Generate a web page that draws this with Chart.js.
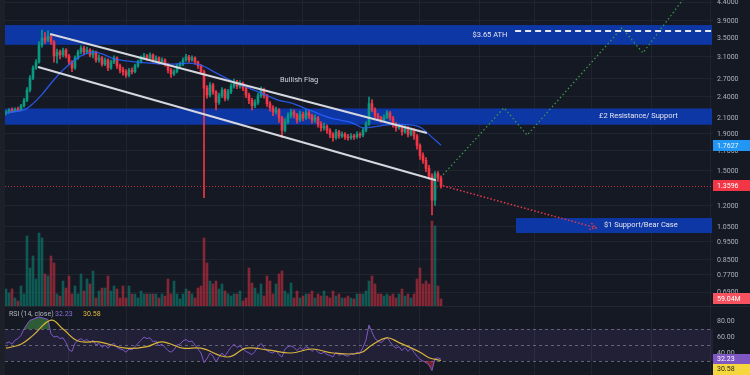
<!DOCTYPE html>
<html>
<head>
<meta charset="utf-8">
<script src="https://cdn.jsdelivr.net/npm/chart.js@4.4.1/dist/chart.umd.min.js"></script>
<style>
html, body { margin: 0; padding: 0; background: #151924; overflow: hidden; }
#wrap { position: relative; width: 750px; height: 375px; }
#price { position: absolute; left: 0; top: 0; }
#rsi { position: absolute; left: 0; top: 307px; }
#sep { position: absolute; left: 0; top: 306px; width: 750px; height: 1px; background: #232734; }
#edge { position: absolute; left: 0; top: 0; width: 5px; height: 375px; background: #1d2029; }
</style>
</head>
<body>
<div id="wrap">
  <canvas id="price" width="750" height="306"></canvas>
  <div id="sep"></div>
  <canvas id="rsi" width="750" height="68"></canvas>
  <div id="edge"></div>
</div>
<script>
// ---- candles (one per bar index) ----
var firstOpen = 2.16;
var closes = [2.18,2.21,2.19,2.22,2.21,2.27,2.35,2.51,2.71,2.89,
  3.00,3.35,3.50,3.45,3.54,3.41,3.12,3.20,3.14,3.24,
  3.12,3.00,2.89,3.08,3.20,3.28,3.20,3.24,3.14,3.20,
  3.04,3.08,2.96,3.04,2.89,3.00,3.08,2.93,2.85,2.82,
  2.76,2.85,2.82,2.93,3.00,3.08,3.12,3.08,3.14,3.04,
  3.08,3.00,3.04,2.96,2.85,2.78,2.82,2.93,2.96,3.04,
  3.10,3.04,3.08,3.00,2.93,2.82,2.54,2.43,2.59,2.48,
  2.32,2.42,2.51,2.38,2.48,2.57,2.64,2.57,2.61,2.54,
  2.43,2.35,2.27,2.32,2.42,2.51,2.42,2.30,2.24,2.18,
  2.21,2.10,1.94,2.05,2.13,2.18,2.14,2.07,2.15,2.10,
  2.17,2.13,2.07,2.10,2.02,1.97,1.99,1.94,1.89,1.85,
  1.92,1.87,1.89,1.86,1.85,1.87,1.86,1.89,1.88,1.94,
  2.02,2.30,2.21,2.13,2.10,2.07,2.11,2.17,2.10,2.02,
  1.97,1.99,1.92,1.97,1.89,1.94,1.87,1.76,1.65,1.60,
  1.52,1.45,1.24,1.47,1.43,1.3596];
var highs = [2.20,2.23,2.24,2.24,2.25,2.29,2.38,2.55,2.75,2.93,
  3.05,3.42,3.68,3.62,3.66,3.58,3.44,3.26,3.24,3.28,
  3.27,3.15,3.03,3.12,3.24,3.33,3.32,3.30,3.27,3.24,
  3.22,3.14,3.11,3.08,3.06,3.04,3.12,3.10,2.96,2.90,
  2.86,2.88,2.89,2.96,3.04,3.12,3.17,3.15,3.18,3.16,
  3.12,3.10,3.08,3.06,2.98,2.88,2.86,2.96,3.00,3.08,
  3.15,3.13,3.12,3.10,3.02,2.95,2.85,2.58,2.63,2.62,
  2.50,2.46,2.55,2.53,2.52,2.61,2.69,2.67,2.66,2.64,
  2.56,2.46,2.38,2.36,2.46,2.56,2.54,2.44,2.33,2.27,
  2.25,2.23,2.12,2.09,2.17,2.22,2.21,2.16,2.19,2.18,
  2.21,2.20,2.15,2.14,2.12,2.05,2.03,2.01,1.96,1.91,
  1.95,1.94,1.92,1.91,1.89,1.90,1.89,1.92,1.91,1.97,
  2.05,2.40,2.36,2.24,2.16,2.12,2.14,2.20,2.19,2.12,
  2.04,2.02,2.01,2.00,1.99,1.97,1.96,1.89,1.78,1.68,
  1.63,1.55,1.47,1.49,1.49,1.45];
var lows = [2.14,2.16,2.17,2.18,2.19,2.20,2.25,2.33,2.48,2.68,
  2.86,2.98,3.30,3.38,3.42,3.36,3.00,2.98,3.06,3.10,
  3.08,2.95,2.82,2.86,3.05,3.16,3.14,3.16,3.10,3.08,
  3.00,3.00,2.92,2.93,2.84,2.86,2.97,2.88,2.80,2.76,
  2.72,2.73,2.78,2.80,2.90,2.98,3.05,3.03,3.05,3.00,
  3.01,2.96,2.97,2.92,2.80,2.72,2.75,2.80,2.90,2.93,
  3.01,3.00,3.01,2.96,2.88,2.78,1.26,2.38,2.40,2.44,
  2.21,2.29,2.39,2.34,2.35,2.45,2.54,2.53,2.54,2.50,
  2.39,2.30,2.21,2.24,2.29,2.39,2.38,2.26,2.19,2.13,
  2.15,2.04,1.85,1.92,2.02,2.10,2.10,2.03,2.05,2.06,
  2.08,2.09,2.03,2.04,1.98,1.93,1.94,1.90,1.85,1.81,
  1.83,1.84,1.85,1.83,1.82,1.83,1.83,1.84,1.85,1.86,
  1.92,2.00,2.18,2.10,2.07,2.04,2.05,2.09,2.07,1.98,
  1.93,1.95,1.88,1.90,1.86,1.87,1.83,1.72,1.61,1.57,
  1.49,1.42,1.13,1.20,1.40,1.34];
// volume in millions
var volumes = [143,109,143,67,42,168,101,588,319,420,
  227,613,571,269,252,420,361,101,84,210,
  151,252,101,168,101,269,126,227,185,294,
  67,126,151,151,252,126,168,143,67,168,
  67,168,101,101,67,126,101,101,101,101,
  101,67,101,84,227,101,210,101,59,101,
  143,126,101,67,151,168,571,361,210,185,
  210,143,185,126,101,84,101,101,126,42,
  67,319,193,151,101,185,84,252,210,101,
  185,269,294,126,101,193,67,126,67,84,
  101,101,126,67,101,84,126,84,67,126,
  84,101,67,67,84,67,59,101,101,101,
  126,210,252,185,101,101,84,101,84,101,
  67,101,143,84,101,67,101,227,319,185,
  210,185,714,672,168,59.04];
var rsi = [52,54,51,56,58,62,70,76,81,82,
  84,85,84,83,82,64,60,61,58,59,
  53,44,42,52,56,58,55,57,53,56,
  50,52,47,50,46,50,52,47,45,44,
  41,45,44,48,52,56,60,58,59,54,
  55,49,51,47,43,41,44,50,51,55,
  57,54,55,50,45,40,28,33,40,36,
  29,35,40,36,42,47,51,47,49,45,
  42,40,38,42,48,52,47,43,41,40,
  43,38,35,45,48,49,47,43,47,44,
  48,46,42,45,41,39,41,38,37,35,
  41,37,39,37,36,39,38,41,40,47,
  56,75,66,58,55,53,56,60,54,49,
  46,48,43,47,42,46,41,36,32,30,
  28,25,18,33,34,32.23];

// ---- overlays ----
var maIdx = [0,6,9,12,16,20,25,29,32,36,42,48,55,61,65,70,76,81,85,91,95,101,108,115,119,122,128,134,138,140,145];
var maVal = [2.17,2.21,2.30,2.44,2.68,2.90,3.12,3.20,3.16,3.06,3.01,2.98,2.96,2.98,2.94,2.80,2.64,2.54,2.46,2.35,2.31,2.21,2.10,2.04,1.97,1.98,2.01,2.01,1.98,1.92,1.7627];
var rsiMaIdx = [0,5,9,15,19,24,31,40,47,52,59,65,74,80,87,95,102,109,118,122,127,131,138,141,145];
var rsiMaVal = [46,51,62,81,70,55,54,46,48,54,46,46,35,46,44,40,45,40,40,50,59,53,41,34,30.58];
var flagTopIdx = [14.7, 140.3], flagTopVal = [3.59, 1.906];
var flagBotIdx = [10.7, 143.3], flagBotVal = [2.906, 1.41];
var bullIdx = [145.7, 166, 173.7, 205.3, 212.3, 228];
var bullVal = [1.46, 2.24, 1.88, 3.73, 3.18, 4.75];
var bearIdx = [145.7, 196.7];
var bearVal = [1.36, 1.04];
var zoneLow = [3.35, 2.01, 1.006];
var zoneHigh = [3.80, 2.23, 1.107];
var zoneStart = [null, null, 170];
var zoneText = ['', '\u00a32 Resistance/ Support', '$1 Support/Bear Case'];
var athPrice = 3.65;
var priceMin = 0.631, priceMax = 4.46;
var priceTicks = [4.4, 3.9, 3.5, 3.1, 2.7, 2.4, 2.1, 1.9, 1.7, 1.5, 1.2, 1.05, 0.95, 0.85, 0.77, 0.69];
var rsiTicks = [80, 60, 40];
var timeGrid = [20.7, 40.3, 59.7, 79.3, 98.7, 118, 138, 158, 176.3, 195.3, 215.3, 234.7];

Chart.defaults.font.family = 'Roboto, "Noto Sans", sans-serif';
var upCol = '#089981', downCol = '#f23645';
var opens = closes.map(function (c, i) { return i === 0 ? firstOpen : closes[i - 1]; });
var candleCol = closes.map(function (c, i) { return c >= opens[i] ? upCol : downCol; });
var volCol = closes.map(function (c, i) { return c >= opens[i] ? 'rgba(8,153,129,0.5)' : 'rgba(242,54,69,0.5)'; });
function pts(xs, ys) { return xs.map(function (x, k) { return { x: x, y: ys[k] }; }); }

var gridCol = 'rgba(46,50,62,0.45)';
function makeXAxis() {
  return {
    type: 'linear', min: -1 / 3, max: 235.667, offset: false,
    ticks: { display: false }, border: { display: false },
    grid: { color: gridCol, drawTicks: false, offset: false },
    afterBuildTicks: function (s) { s.ticks = timeGrid.map(function (v) { return { value: v }; }); },
    afterFit: function (s) { s.height = 0; }
  };
}

// tick labels are painted by hand so they add no layout padding
function drawTickLabels(ctx, scale, values, digits) {
  ctx.font = '7px Roboto';
  ctx.fillStyle = '#aeb1ba';
  ctx.textAlign = 'left';
  ctx.textBaseline = 'middle';
  values.forEach(function (v) { ctx.fillText(v.toFixed(digits), 717, scale.getPixelForValue(v) + 0.5); });
}

function axisBox(ctx, y, text, bg, fg) {
  ctx.fillStyle = bg;
  ctx.fillRect(713, Math.round(y - 5.5), 37, 11);
  ctx.fillStyle = fg;
  ctx.font = '7px Roboto';
  ctx.textAlign = 'left';
  ctx.textBaseline = 'middle';
  ctx.fillText(text, 717, y + 0.5);
}

var priceOverlay = {
  id: 'priceOverlay',
  beforeDatasetsDraw: function (chart) {
    var ctx = chart.ctx, a = chart.chartArea, x = chart.scales.x, y = chart.scales.y;
    ctx.save();
    ctx.beginPath(); ctx.rect(a.left, a.top, a.width, a.height); ctx.clip();
    ctx.fillStyle = '#0e37a6';
    for (var k = 0; k < zoneLow.length; k++) {
      var x0 = zoneStart[k] === null ? a.left : x.getPixelForValue(zoneStart[k]);
      var yt = y.getPixelForValue(zoneHigh[k]), yb = y.getPixelForValue(zoneLow[k]);
      ctx.fillRect(x0, yt, a.right - 1 - x0, yb - yt);
    }
    ctx.restore();
  },
  afterDatasetsDraw: function (chart) {
    var ctx = chart.ctx, a = chart.chartArea, x = chart.scales.x, y = chart.scales.y;
    ctx.save();
    ctx.beginPath(); ctx.rect(a.left, a.top, a.width, a.height); ctx.clip();
    // zone labels
    ctx.font = '7.5px Roboto';
    ctx.fillStyle = '#e3e5ec';
    ctx.textBaseline = 'middle';
    ctx.textAlign = 'left';
    ctx.fillText('$3.65 ATH', x.getPixelForValue(155.5), (y.getPixelForValue(zoneHigh[0]) + y.getPixelForValue(zoneLow[0])) / 2 + 0.5);
    ctx.fillText(zoneText[1], x.getPixelForValue(197.7), (y.getPixelForValue(zoneHigh[1]) + y.getPixelForValue(zoneLow[1])) / 2);
    ctx.fillText(zoneText[2], x.getPixelForValue(199.3), (y.getPixelForValue(zoneHigh[2]) + y.getPixelForValue(zoneLow[2])) / 2);
    ctx.fillStyle = '#d1d4dc';
    ctx.fillText('Bullish Flag', x.getPixelForValue(91.3), y.getPixelForValue(2.68));
    // ATH dashed line
    ctx.strokeStyle = '#e6e8ee';
    ctx.lineWidth = 2;
    ctx.setLineDash([6, 4]);
    var ya = Math.round(y.getPixelForValue(athPrice));
    ctx.beginPath(); ctx.moveTo(x.getPixelForValue(169.7), ya); ctx.lineTo(a.right, ya); ctx.stroke();
    // last price line
    ctx.strokeStyle = 'rgba(242,54,69,0.75)';
    ctx.lineWidth = 1;
    ctx.setLineDash([1, 2]);
    var yl = Math.round(y.getPixelForValue(closes[closes.length - 1])) + 0.5;
    ctx.beginPath(); ctx.moveTo(a.left, yl); ctx.lineTo(a.right, yl); ctx.stroke();
    // arrow head at end of bear path
    var n = bearIdx.length;
    var px1 = x.getPixelForValue(bearIdx[n - 2]), py1 = y.getPixelForValue(bearVal[n - 2]);
    var px2 = x.getPixelForValue(bearIdx[n - 1]), py2 = y.getPixelForValue(bearVal[n - 1]);
    var ang = Math.atan2(py2 - py1, px2 - px1);
    ctx.setLineDash([1.5, 1.5]);
    ctx.strokeStyle = '#e53947';
    ctx.lineWidth = 1.3;
    ctx.beginPath();
    ctx.moveTo(px2 - 7 * Math.cos(ang - 0.5), py2 - 7 * Math.sin(ang - 0.5));
    ctx.lineTo(px2, py2);
    ctx.lineTo(px2 - 7 * Math.cos(ang + 0.5), py2 - 7 * Math.sin(ang + 0.5));
    ctx.stroke();
    ctx.restore();
  },
  afterDraw: function (chart) {
    var ctx = chart.ctx, y = chart.scales.y, v = chart.scales.vol;
    ctx.save();
    drawTickLabels(ctx, y, priceTicks, 4);
    axisBox(ctx, y.getPixelForValue(maVal[maVal.length - 1]), maVal[maVal.length - 1].toFixed(4), '#2196f3', '#eaf3ff');
    axisBox(ctx, y.getPixelForValue(closes[closes.length - 1]), closes[closes.length - 1].toFixed(4), '#f23645', '#ffffff');
    axisBox(ctx, v.getPixelForValue(volumes[volumes.length - 1]), volumes[volumes.length - 1].toFixed(2) + 'M', '#f7525f', '#ffffff');
    ctx.restore();
  }
};

new Chart(document.getElementById('price'), {
  type: 'bar',
  data: {
    datasets: [
      { type: 'bar', data: volumes.map(function (v, i) { return { x: i, y: v }; }), yAxisID: 'vol',
        backgroundColor: volCol, barThickness: 2, grouped: false, order: 10 },
      { type: 'bar', data: closes.map(function (c, i) { return { x: i, y: [lows[i], highs[i]] }; }),
        backgroundColor: candleCol, barThickness: 1, grouped: false, order: 6 },
      { type: 'bar', data: closes.map(function (c, i) { return { x: i, y: [opens[i], c] }; }),
        backgroundColor: candleCol, barThickness: 2, grouped: false, order: 5 },
      { type: 'line', data: pts(maIdx, maVal), borderColor: 'rgba(41,98,255,0.85)', borderWidth: 1.3,
        pointRadius: 0, tension: 0.3, order: 4 },
      { type: 'line', data: pts(flagTopIdx, flagTopVal), borderColor: '#d6d8df', borderWidth: 2, pointRadius: 0, order: 3 },
      { type: 'line', data: pts(flagBotIdx, flagBotVal), borderColor: '#d6d8df', borderWidth: 2, pointRadius: 0, order: 3 },
      { type: 'line', data: pts(bullIdx, bullVal), borderColor: '#3f9d48', borderWidth: 1.2, borderDash: [1.5, 2.5],
        pointRadius: 0, order: 2 },
      { type: 'line', data: pts(bearIdx, bearVal), borderColor: '#e53947', borderWidth: 1.5, borderDash: [1.5, 2],
        pointRadius: 0, order: 2 }
    ]
  },
  options: {
    responsive: false, animation: false, devicePixelRatio: 1, events: [],
    layout: { padding: { left: 5, top: 0, right: 0, bottom: 0 }, autoPadding: false },
    plugins: { legend: { display: false }, tooltip: { enabled: false } },
    scales: {
      x: makeXAxis(),
      y: {
        type: 'logarithmic', position: 'right', min: priceMin, max: priceMax, bounds: 'data',
        border: { display: false },
        grid: { color: gridCol, drawTicks: false },
        ticks: { display: false },
        afterBuildTicks: function (s) {
          s.ticks = priceTicks.map(function (v) { return { value: v }; });
          s.min = priceMin; s.max = priceMax;
        },
        afterFit: function (s) { s.width = 37; }
      },
      vol: { type: 'linear', display: false, min: 0, max: 2570 }
    }
  },
  plugins: [priceOverlay]
});

var rsiOverlay = {
  id: 'rsiOverlay',
  beforeDatasetsDraw: function (chart) {
    var ctx = chart.ctx, a = chart.chartArea, y = chart.scales.y;
    ctx.save();
    ctx.fillStyle = 'rgba(126,87,194,0.12)';
    var y70 = y.getPixelForValue(70), y30 = y.getPixelForValue(30);
    ctx.fillRect(a.left, y70, a.width, y30 - y70);
    ctx.strokeStyle = 'rgba(120,123,134,0.75)';
    ctx.lineWidth = 1;
    ctx.setLineDash([3, 3]);
    [70, 50, 30].forEach(function (lv) {
      var yy = Math.round(y.getPixelForValue(lv)) + 0.5;
      ctx.beginPath(); ctx.moveTo(a.left, yy); ctx.lineTo(a.right, yy); ctx.stroke();
    });
    ctx.restore();
  },
  afterDraw: function (chart) {
    var ctx = chart.ctx, y = chart.scales.y;
    ctx.save();
    drawTickLabels(ctx, y, rsiTicks, 2);
    ctx.font = '7px Roboto';
    ctx.textBaseline = 'middle';
    ctx.textAlign = 'left';
    ctx.fillStyle = '#b2b5be';
    ctx.fillText('RSI (14, close)', 9, 7);
    ctx.fillStyle = '#8f6fdc';
    ctx.fillText(rsi[rsi.length - 1].toFixed(2), 55, 7);
    ctx.fillStyle = '#e2b93b';
    ctx.fillText(rsiMaVal[rsiMaVal.length - 1].toFixed(2), 83, 7);
    var y1 = y.getPixelForValue(rsi[rsi.length - 1]);
    var y2 = Math.max(y.getPixelForValue(rsiMaVal[rsiMaVal.length - 1]), y1 + 10);
    axisBox(ctx, y1, rsi[rsi.length - 1].toFixed(2), '#7e57c2', '#ffffff');
    axisBox(ctx, y2, rsiMaVal[rsiMaVal.length - 1].toFixed(2), '#f5d63d', '#2a2a2a');
    ctx.restore();
  }
};

new Chart(document.getElementById('rsi'), {
  type: 'line',
  data: {
    datasets: [
      { data: rsi.map(function (v, i) { return { x: i, y: v }; }), borderColor: '#7e57c2', borderWidth: 1,
        pointRadius: 0, order: 2,
        fill: { target: { value: 70 }, above: 'rgba(76,175,80,0.45)', below: 'rgba(0,0,0,0)' } },
      { data: rsi.map(function (v, i) { return { x: i, y: v }; }), borderColor: 'rgba(0,0,0,0)', borderWidth: 0,
        pointRadius: 0, order: 3,
        fill: { target: { value: 30 }, above: 'rgba(0,0,0,0)', below: 'rgba(242,54,69,0.45)' } },
      { data: pts(rsiMaIdx, rsiMaVal), borderColor: '#d9b53a', borderWidth: 1.2, pointRadius: 0,
        tension: 0.4, order: 1 }
    ]
  },
  options: {
    responsive: false, animation: false, devicePixelRatio: 1, events: [],
    layout: { padding: { left: 5, top: 0, right: 0, bottom: 0 }, autoPadding: false },
    plugins: { legend: { display: false }, tooltip: { enabled: false } },
    scales: {
      x: makeXAxis(),
      y: {
        type: 'linear', position: 'right', min: 12.5, max: 97.5,
        border: { display: false },
        grid: { display: false },
        ticks: { display: false },
        afterBuildTicks: function (s) { s.ticks = rsiTicks.map(function (v) { return { value: v }; }); },
        afterFit: function (s) { s.width = 37; }
      }
    }
  },
  plugins: [rsiOverlay]
});
</script>
</body>
</html>
